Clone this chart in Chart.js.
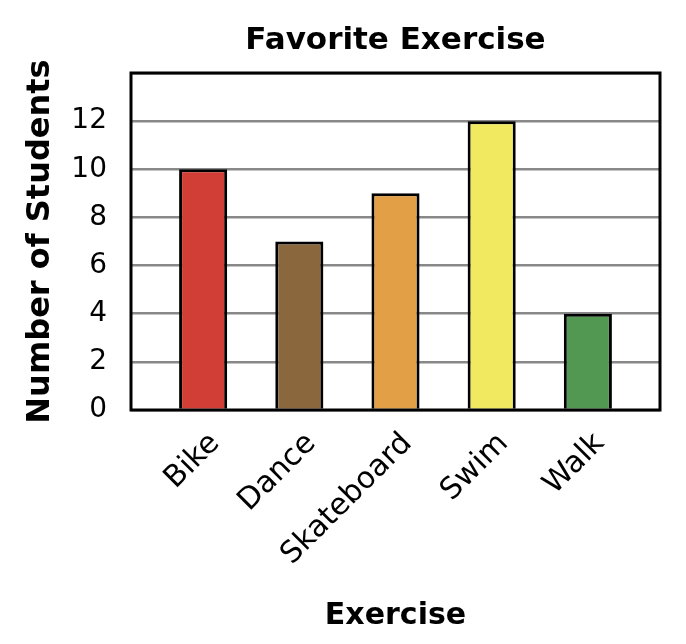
<!DOCTYPE html>
<html>
<head>
<meta charset="utf-8">
<script src="https://cdn.jsdelivr.net/npm/chart.js@4.4.1/dist/chart.umd.min.js"></script>
<style>
  html, body { margin: 0; padding: 0; background: #fff; }
  #wrap { width: 686px; height: 644px; }
</style>
</head>
<body>
<div id="wrap"><canvas id="exerciseChart"></canvas></div>
<script>
// Data
const categories = ["Bike", "Dance", "Skateboard", "Swim", "Walk"];
const students = [10, 7, 9, 12, 4];
const barColors = ["#D13E35", "#8B673E", "#E39F45", "#F1E960", "#529853"];
const yTicks = [0, 2, 4, 6, 8, 10, 12];

const FONT = "'DejaVu Sans', Verdana, sans-serif";

// title centred on the plot area, frame around it
const framePlugin = {
  id: "frame",
  afterDatasetsDraw(chart) {
    const { ctx, chartArea: a } = chart;
    ctx.save();
    ctx.strokeStyle = "#000";
    ctx.lineWidth = 3;
    ctx.strokeRect(a.left, a.top, a.right - a.left, a.bottom - a.top);
    ctx.restore();
  },
  afterDraw(chart) {
    const { ctx, chartArea: a } = chart;
    ctx.save();
    ctx.fillStyle = "#000";
    ctx.font = "bold 31px " + FONT;
    ctx.textAlign = "center";
    ctx.textBaseline = "middle";
    ctx.fillText("Favorite Exercise", (a.left + a.right) / 2, 41);
    ctx.restore();
  },
};

const ctx = document.getElementById("exerciseChart").getContext("2d");
new Chart(ctx, {
  type: "bar",
  data: {
    datasets: [
      {
        data: categories.map((c, i) => ({ x: i, y: students[i] })),
        backgroundColor: barColors,
        borderColor: "#000",
        borderWidth: 3,
        borderSkipped: "start",
        categoryPercentage: 1,
        barPercentage: 0.5,
      },
    ],
  },
  options: {
    responsive: true,
    maintainAspectRatio: false,
    animation: false,
    layout: { padding: { top: 73, right: 26, left: 21, bottom: 10 } },
    plugins: {
      legend: { display: false },
      tooltip: { enabled: false },
    },
    scales: {
      x: {
        type: "linear",
        offset: false,
        min: -0.75,
        max: 4.75,
        afterBuildTicks: (axis) => {
          axis.ticks = categories.map((c, i) => ({ value: i }));
        },
        afterFit: (axis) => {
          axis.height = 224;
        },
        grid: { display: false },
        border: { display: false },
        ticks: {
          color: "#000",
          font: { family: FONT, size: 30 },
          minRotation: 45,
          maxRotation: 45,
          padding: 8,
          labelOffset: 12,
          callback: (v) => categories[v] ?? "",
        },
        title: {
          display: true,
          text: "Exercise",
          color: "#000",
          font: { family: FONT, size: 30, weight: "bold" },
          padding: { top: 12, bottom: 0 },
        },
      },
      y: {
        min: 0,
        max: 14,
        afterBuildTicks: (axis) => {
          axis.ticks = yTicks.concat([14]).map((v) => ({ value: v }));
        },
        afterFit: (axis) => {
          axis.width = 110;
        },
        grid: { color: "#888", lineWidth: 2.5, drawTicks: false },
        border: { display: false },
        ticks: {
          color: "#000",
          font: { family: FONT, size: 28 },
          padding: 24,
          callback: (v) => (yTicks.includes(v) ? v : ""),
        },
        title: {
          display: true,
          text: "Number of Students",
          color: "#000",
          font: { family: FONT, size: 32, weight: "bold" },
          padding: { top: 0, bottom: 0 },
        },
      },
    },
  },
  plugins: [framePlugin],
});
</script>
</body>
</html>
